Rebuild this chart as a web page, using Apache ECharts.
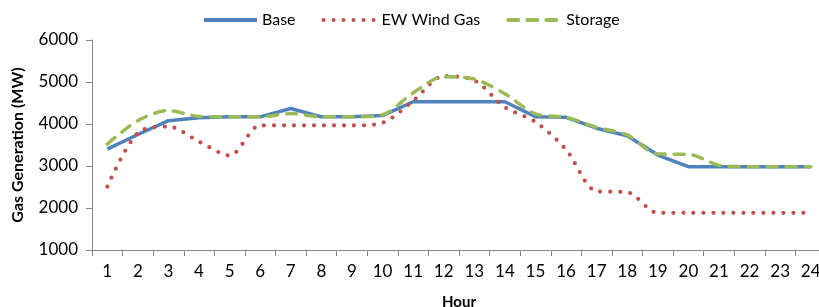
<!DOCTYPE html>
<html>
<head>
<meta charset="utf-8">
<script src="https://cdn.jsdelivr.net/npm/echarts@6/dist/echarts.min.js"></script>
<style>
  html, body { margin: 0; padding: 0; background: #fff; overflow: hidden; }
  #chart { width: 826px; height: 307px; }
</style>
</head>
<body>
<div id="chart"></div>
<script>
var hours = ['1','2','3','4','5','6','7','8','9','10','11','12','13','14','15','16','17','18','19','20','21','22','23','24'];
var base = [3400, 3750, 4080, 4150, 4170, 4170, 4370, 4170, 4170, 4200, 4530, 4530, 4530, 4530, 4175, 4160, 3900, 3720, 3260, 2985, 2985, 2985, 2985, 2985];
var ewWindGas = [2510, 3790, 3940, 3580, 3250, 3965, 3965, 3965, 3965, 4030, 4550, 5140, 5040, 4400, 4050, 3390, 2400, 2375, 1885, 1885, 1885, 1885, 1885, 1885];
var storage = [3520, 4080, 4320, 4180, 4170, 4170, 4250, 4170, 4170, 4220, 4740, 5125, 5070, 4720, 4240, 4160, 3920, 3740, 3285, 3280, 3020, 2985, 2985, 2985];

var font = 'Lato';
var chart = echarts.init(document.getElementById('chart'));
var option = {
  animation: false,
  textStyle: { fontFamily: font },
  legend: {
    left: 197,
    top: 7,
    itemWidth: 53,
    itemHeight: 14,
    itemGap: 26,
    itemStyle: { opacity: 0 },
    lineStyle: { width: 4 },
    textStyle: { fontFamily: font, fontSize: 16, color: '#000' },
    data: ['Base', 'EW Wind Gas', 'Storage']
  },
  grid: { left: 92, right: 0, top: 40, bottom: 57, containLabel: false, outerBoundsMode: 'none' },
  xAxis: {
    type: 'category',
    data: hours,
    boundaryGap: true,
    name: 'Hour',
    nameLocation: 'middle',
    nameGap: 45,
    nameTextStyle: { fontFamily: font, fontSize: 15, fontWeight: 'bold', color: '#000' },
    axisLine: { lineStyle: { color: '#868686', width: 1 } },
    axisTick: { show: true, length: 6, alignWithLabel: false, lineStyle: { color: '#868686' } },
    axisLabel: { margin: 13, fontFamily: font, fontSize: 17, color: '#000', interval: 0 },
    splitLine: { show: false }
  },
  yAxis: {
    type: 'value',
    min: 1000,
    max: 6000,
    interval: 1000,
    name: 'Gas Generation (MW)',
    nameLocation: 'middle',
    nameGap: 66,
    nameRotate: 90,
    nameTextStyle: { fontFamily: font, fontSize: 16, fontWeight: 'bold', color: '#000' },
    axisLine: { show: true, lineStyle: { color: '#868686', width: 1 } },
    axisTick: { show: true, length: 6, lineStyle: { color: '#868686' } },
    axisLabel: { margin: 14, fontFamily: font, fontSize: 17, color: '#000', formatter: function (v) { return String(v); } },
    splitLine: { show: false }
  },
  series: [
    {
      name: 'Base',
      type: 'line',
      data: base,
      symbol: 'none',
      z: 2,
      itemStyle: { color: '#4F81BD' },
      lineStyle: { color: '#4F81BD', width: 3.5 }
    },
    {
      name: 'EW Wind Gas',
      type: 'line',
      data: ewWindGas,
      symbol: 'none',
      smooth: 0.3,
      z: 3,
      itemStyle: { color: '#C0504D' },
      lineStyle: { color: '#C0504D', width: 4.2, type: [0, 10], cap: 'round' }
    },
    {
      name: 'Storage',
      type: 'line',
      data: storage,
      symbol: 'none',
      smooth: 0.3,
      z: 4,
      itemStyle: { color: '#9BBB59' },
      lineStyle: { color: '#9BBB59', width: 3.5, type: [10, 9], cap: 'round' }
    }
  ]
};
option && chart.setOption(option);
</script>
</body>
</html>
